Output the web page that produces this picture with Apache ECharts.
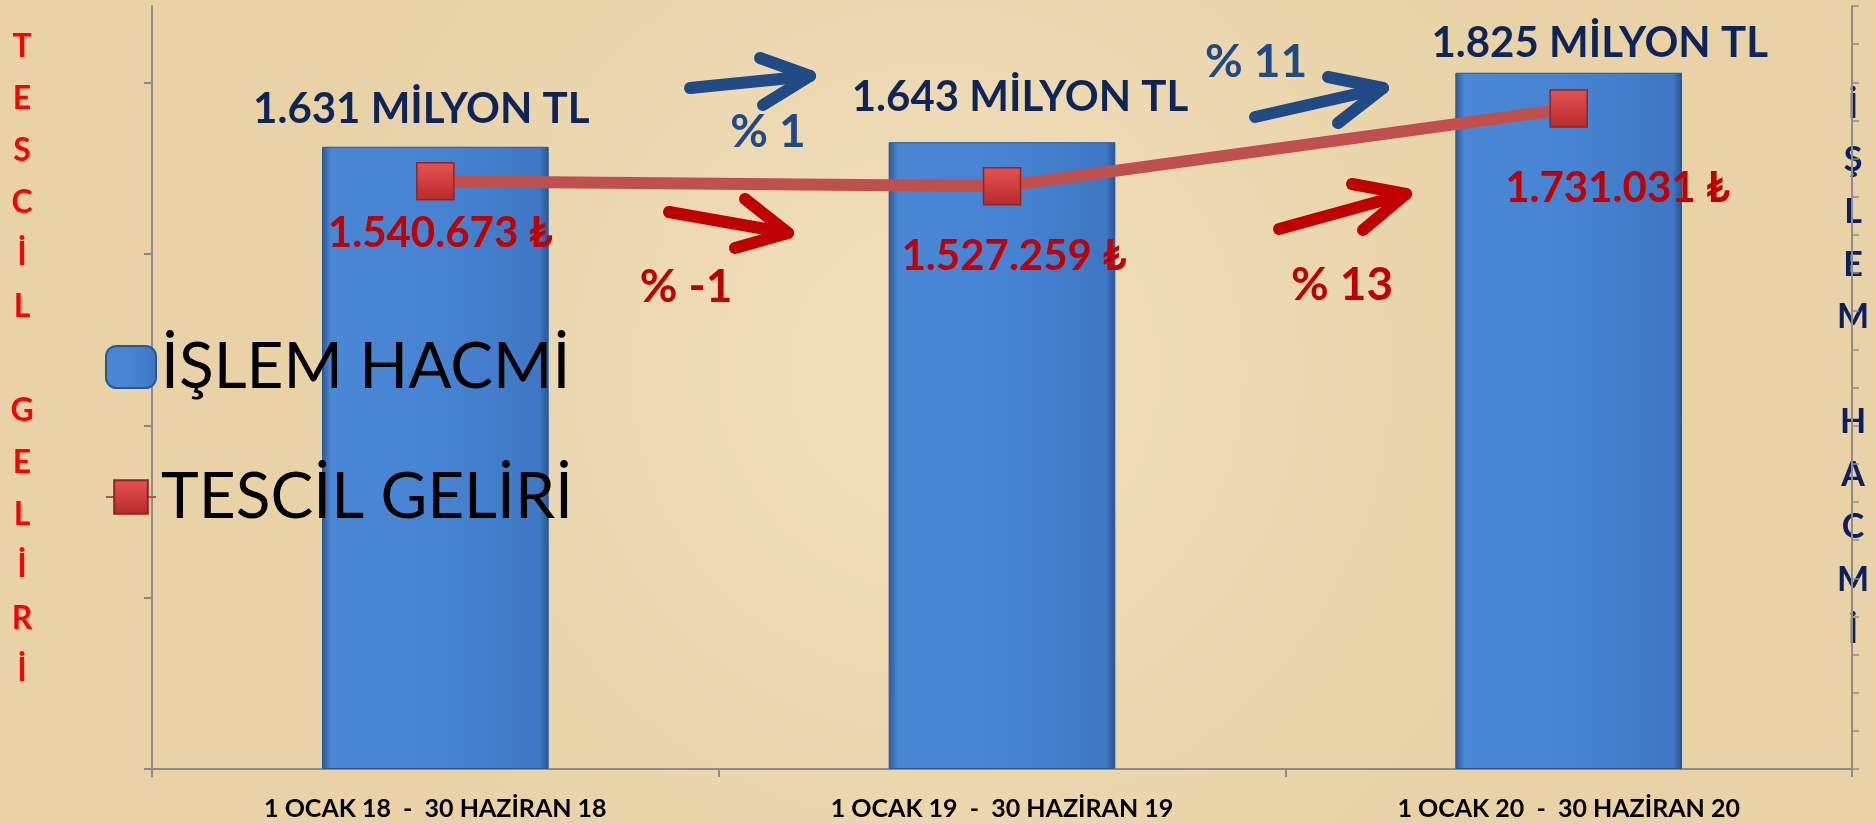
<!DOCTYPE html>
<html>
<head>
<meta charset="utf-8">
<script src="https://cdn.jsdelivr.net/npm/echarts@6/dist/echarts.min.js"></script>
<style>
  html, body { margin: 0; padding: 0; background: #eddab3; }
  #chart { width: 1876px; height: 824px; }
</style>
</head>
<body>
<div id="chart"></div>
<script>
// ================ data =====================
const periods = ['1 OCAK 18  -  30 HAZİRAN 18', '1 OCAK 19  -  30 HAZİRAN 19', '1 OCAK 20  -  30 HAZİRAN 20']
const islemHacmi = [1631, 1643, 1825] // milyon TL
const tescilGeliri = [1540673, 1527259, 1731031] // TL
const changeLabels = ['% 1', '% -1', '% 11', '% 13']
const leftTitle = 'TESCİL GELİRİ'
const rightTitle = 'İŞLEM HACMİ'

// ================ helpers =====================
const dotted = (n) => String(n).replace(/\B(?=(\d{3})+(?!\d))/g, '.')
const stack = (s) => s.split('').map((c) => (c === ' ' ? '' : c)).join('\n')

const barLabelOffsets = [[-14, -16], [18, -24], [31, -8]]
const lineLabelOffsets = [[5, 52], [12, 70], [49, 80]]

const blue = '#1f4a85'
const red = '#c00000'

const arrow = (start, tip, a, b, color) => ({
  type: 'group',
  children: [
    { type: 'polyline', shape: { points: [start, tip] }, style: { stroke: color, lineWidth: 12, lineCap: 'round', fill: null } },
    { type: 'polyline', shape: { points: [a, tip, b] }, style: { stroke: color, lineWidth: 12, lineCap: 'round', lineJoin: 'round', fill: null } }
  ]
})
const txt = (x, y, text, color, size) => ({
  type: 'text',
  x, y,
  style: { text, fill: color, font: `bold ${size}px Lato`, align: 'center', verticalAlign: 'middle' }
})

const option = {
  backgroundColor: {
    type: 'radial', x: 0.5, y: 0.45, r: 0.8,
    colorStops: [
      { offset: 0, color: '#f1e0bd' },
      { offset: 1, color: '#e8d2a6' }
    ]
  },
  textStyle: { fontFamily: 'Lato' },
  grid: { left: 152, right: 24, top: 6, bottom: 55 },
  legend: {
    orient: 'vertical',
    left: 100,
    top: 327,
    itemGap: 60,
    itemWidth: 50,
    itemHeight: 42,
    textStyle: { fontSize: 64, color: '#000', fontFamily: 'Lato', lineHeight: 70 },
    data: ['İŞLEM HACMİ', 'TESCİL GELİRİ']
  },
  xAxis: {
    type: 'category',
    data: periods,
    axisLine: { lineStyle: { color: '#8c8c8c', width: 2 } },
    axisTick: { show: true, length: 8, lineStyle: { color: '#8c8c8c', width: 2 } },
    axisLabel: { color: '#000', fontWeight: 'bold', fontSize: 25, margin: 27 }
  },
  yAxis: [
    {
      type: 'value',
      min: 0,
      max: 2000000,
      position: 'left',
      axisLine: { show: true, lineStyle: { color: '#8c8c8c', width: 2 } },
      axisTick: { show: true, length: 8, lineStyle: { color: '#8c8c8c', width: 2 }, customValues: [0, 450000, 900000, 1350000, 1800000] },
      axisLabel: { show: false },
      splitLine: { show: false }
    },
    {
      type: 'value',
      min: 0,
      max: 2000,
      interval: 100,
      position: 'right',
      axisLine: { show: true, lineStyle: { color: '#8c8c8c', width: 2 } },
      axisTick: { show: true, length: 7, lineStyle: { color: '#8c8c8c', width: 1.5 } },
      axisLabel: { show: false },
      splitLine: { show: false }
    }
  ],
  series: [
    {
      name: 'İŞLEM HACMİ',
      type: 'bar',
      yAxisIndex: 1,
      barWidth: '40%',
      itemStyle: {
        color: {
          type: 'linear', x: 0, y: 0, x2: 1, y2: 0,
          colorStops: [
            { offset: 0, color: '#2c5a98' },
            { offset: 0.04, color: '#4a87d4' },
            { offset: 0.5, color: '#4684d3' },
            { offset: 0.96, color: '#3e77c3' },
            { offset: 1, color: '#2a5590' }
          ]
        },
        borderColor: '#2b5690',
        borderWidth: 1
      },
      label: {
        show: true,
        position: 'top',
        distance: 0,
        color: '#0f2557',
        fontWeight: 'bold',
        fontSize: 42,
        lineHeight: 42,
        formatter: (p) => dotted(p.value) + ' MİLYON TL'
      },
      data: islemHacmi.map((v, i) => ({ value: v, label: { offset: barLabelOffsets[i] } }))
    },
    {
      name: 'TESCİL GELİRİ',
      type: 'line',
      yAxisIndex: 0,
      z: 5,
      symbol: 'rect',
      symbolSize: 37,
      lineStyle: { color: '#c0504d', width: 12 },
      itemStyle: {
        color: {
          type: 'linear', x: 0, y: 0, x2: 0, y2: 1,
          colorStops: [
            { offset: 0, color: '#e65252' },
            { offset: 1, color: '#b72b2b' }
          ]
        },
        borderColor: '#8e2525',
        borderWidth: 1.5
      },
      label: {
        show: true,
        position: 'inside',
        color: red,
        fontWeight: 'bold',
        fontSize: 42,
        formatter: (p) => dotted(p.value) + ' ₺'
      },
      data: tescilGeliri.map((v, i) => ({ value: v, label: { offset: lineLabelOffsets[i] } }))
    }
  ],
  graphic: [
    arrow([690, 88], [810, 76], [760, 58], [763, 105], blue),
    arrow([669, 212], [788, 233], [745, 199], [735, 248], red),
    arrow([1255, 117], [1383, 88], [1328, 77], [1338, 123], blue),
    arrow([1279, 229], [1406, 194], [1352, 184], [1363, 230], red),
    txt(768, 132, changeLabels[0], blue, 46),
    txt(686, 287, changeLabels[1], red, 46),
    txt(1256, 62, changeLabels[2], blue, 46),
    txt(1342, 285, changeLabels[3], red, 46),
    {
      type: 'text', x: 22, y: 359,
      style: { text: stack(leftTitle), fill: '#ff0000', font: 'bold 32px Lato', lineHeight: 52, align: 'center', verticalAlign: 'middle' }
    },
    {
      type: 'text', x: 1853, y: 370,
      style: { text: stack(rightTitle), fill: '#0a2060', font: 'bold 34px Lato', lineHeight: 52.5, align: 'center', verticalAlign: 'middle' }
    }
  ]
}

const myChart = echarts.init(document.getElementById('chart'))
myChart.setOption(option)
</script>
</body>
</html>
